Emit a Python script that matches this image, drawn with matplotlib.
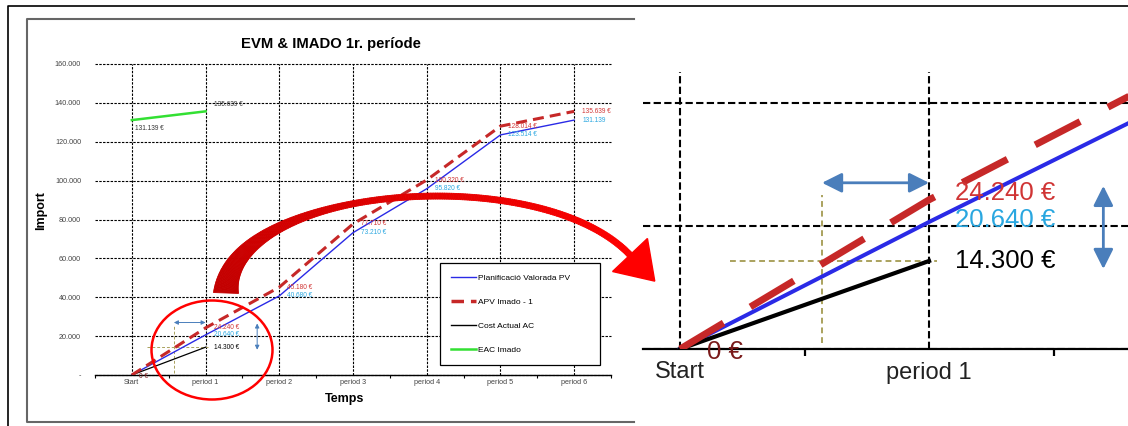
import numpy as np
import matplotlib
matplotlib.use('Agg')
import matplotlib.pyplot as plt
from matplotlib.patches import Ellipse, Polygon
from matplotlib.collections import PolyCollection
from matplotlib.lines import Line2D
from matplotlib.ticker import FuncFormatter, FixedLocator

plt.rcParams['font.family'] = ['Liberation Sans', 'DejaVu Sans']

W, H = 1128, 426

periods = ['Start', 'period 1', 'period 2', 'period 3', 'period 4', 'period 5', 'period 6']
pv = [0, 20640, 40680, 73210, 95820, 123514, 131139]
apv = [0, 24240, 45180, 77710, 100320, 128014, 135639]
ac = [0, 14300]
eac = [131139, 135639]
y_ticks = [0, 20000, 40000, 60000, 80000, 100000, 120000, 140000, 160000]
legend_labels = ['Planificació Valorada PV', 'APV Imado - 1', 'Cost Actual AC', 'EAC Imado']

# variance markers around period 1
es_x = 0.57                    # where the APV line reaches the actual cost
sv_arrow_y = 27000
cv_arrow_x = 1.7
cv_arrow_span = (26500, 13000)

BLUE = '#2a2ae6'
RED = '#c62828'
RED_TXT = '#d03535'
BLUE_TXT = '#2aa7e0'
GREEN = '#33e033'
OLIVE = '#aaa25e'
STEEL = '#4a7ebb'


def euro(v, unit=True):
    s = f'{v:,}'.replace(',', '.')
    return s + ' €' if unit else s


def box(x0, y0, x1, y1):
    return [x0 / W, 1 - y1 / H, (x1 - x0) / W, (y1 - y0) / H]


def draw_chart(ax, st):
    x = np.arange(len(periods))
    ax.plot(x, pv, color=BLUE, lw=st['lw_pv'], zorder=3)
    ax.plot(x, apv, color=RED, lw=st['lw_apv'], dashes=st['dash_apv'], zorder=4)
    ax.plot(x[:len(ac)], ac, color='black', lw=st['lw_ac'], zorder=3)
    ax.plot(x[:len(eac)], eac, color=GREEN, lw=st['lw_eac'], zorder=3)

    # helper lines for the schedule / cost variance
    ax.plot([0.2, 1.03], [ac[1], ac[1]], color=OLIVE, lw=st['lw_help'],
            dashes=st['dash_help'], zorder=2)
    ax.plot([es_x, es_x], [1000, 25000], color=OLIVE, lw=st['lw_help'],
            dashes=st['dash_help'], zorder=2)
    ax.annotate('', xy=(1.0, sv_arrow_y), xytext=(es_x, sv_arrow_y),
                arrowprops=dict(arrowstyle=st['arrow'], color=STEEL, lw=st['lw_arrow'],
                                mutation_scale=st['ms'], shrinkA=0, shrinkB=0), zorder=5)
    ax.annotate('', xy=(cv_arrow_x, cv_arrow_span[1]), xytext=(cv_arrow_x, cv_arrow_span[0]),
                arrowprops=dict(arrowstyle=st['arrow'], color=STEEL, lw=st['lw_arrow'],
                                mutation_scale=st['ms'], shrinkA=0, shrinkB=0), zorder=5)

    fs = st['fs']
    dx = st['dx']
    for i in range(1, len(periods)):
        ax.annotate(euro(apv[i]), xy=(i, apv[i]), xytext=(dx, st['dy_red']),
                    textcoords='offset pixels', color=RED_TXT, fontsize=fs,
                    va='center', ha='left', zorder=6)
        ax.annotate(euro(pv[i], i < len(periods) - 1), xy=(i, pv[i]),
                    xytext=(dx, st['dy_blue']), textcoords='offset pixels',
                    color=BLUE_TXT, fontsize=fs, va='center', ha='left', zorder=6)
    ax.annotate(euro(ac[1]), xy=(1, ac[1]), xytext=(dx, 0), textcoords='offset pixels',
                color='black', fontsize=fs, va='center', ha='left', zorder=6)
    ax.annotate(euro(0), xy=(0, 0), xytext=st['zero_off'], textcoords='offset pixels',
                color='#7a1a1a', fontsize=fs, va='center', ha='left', zorder=6,
                annotation_clip=False)
    ax.annotate(euro(eac[0]), xy=(0, eac[0]), xytext=(3, -8), textcoords='offset pixels',
                color='#333333', fontsize=fs, va='center', ha='left', zorder=6)
    ax.annotate(euro(eac[1]), xy=(1, eac[1]), xytext=(8, 7), textcoords='offset pixels',
                color='#333333', fontsize=fs, va='center', ha='left', zorder=6)

    ax.set_xticks(x)
    ax.set_xticklabels(periods)
    ax.xaxis.set_minor_locator(FixedLocator(np.arange(-0.5, len(periods), 1.0)))
    ax.set_yticks(y_ticks)
    ax.grid(True, color='black', lw=st['lw_grid'], dashes=st['dash_grid'])
    ax.set_axisbelow(True)
    for s in ['top', 'right', 'left']:
        ax.spines[s].set_visible(False)
    ax.spines['bottom'].set_linewidth(st['lw_axis'])
    ax.set_facecolor('none')


fig = plt.figure(figsize=(W / 100, H / 100), dpi=100)

# main chart
ax = fig.add_axes(box(95, 64, 611, 375))
draw_chart(ax, dict(lw_pv=1.0, lw_apv=2.2, dash_apv=(3.6, 2.0), lw_ac=0.9, lw_eac=1.8,
                    lw_help=0.7, dash_help=(3, 2),
                    arrow='<|-|>,head_length=0.5,head_width=0.25', lw_arrow=0.7, ms=5,
                    fs=4.7, dx=8, dy_red=0, dy_blue=0, zero_off=(7, -2),
                    lw_grid=0.8, dash_grid=(2.2, 1.2), lw_axis=1.0))
ax.set_xlim(-0.5, 6.5)
ax.set_ylim(0, 160000)
for gl in ax.get_ygridlines():
    gl.set_clip_on(False)
ax.yaxis.set_major_formatter(FuncFormatter(lambda v, _: '-' if v == 0 else euro(int(v), False)))
ax.tick_params(axis='both', which='major', length=0, labelsize=5.2, labelcolor='#444444')
ax.tick_params(axis='y', pad=10)
ax.tick_params(axis='x', pad=3)
ax.tick_params(axis='x', which='minor', length=2, width=0.8, direction='out')

handles = [Line2D([], [], color=BLUE, lw=1.0),
           Line2D([], [], color=RED, lw=2.5, dashes=(3.6, 2.0)),
           Line2D([], [], color='black', lw=1.0),
           Line2D([], [], color=GREEN, lw=1.8)]
leg = fig.legend(handles, legend_labels, loc='upper left',
                 bbox_to_anchor=(440 / W, 1 - 368 / H, 160 / W, 105 / H), mode='expand',
                 fontsize=6, labelspacing=1.93, borderpad=1.35, handlelength=3.0,
                 handletextpad=0.15, fancybox=False, framealpha=1, edgecolor='black',
                 borderaxespad=0)
leg.get_frame().set_linewidth(0.9)

fig.text(331 / W, 1 - 44 / H, 'EVM & IMADO 1r. període', ha='center', va='center',
         fontsize=10.7, fontweight='bold')
fig.text(345 / W, 1 - 399 / H, 'Temps', ha='center', va='center', fontsize=9,
         fontweight='bold')
fig.text(41 / W, 1 - 211 / H, 'Import', ha='center', va='center', fontsize=9,
         fontweight='bold', rotation=90)

# zoomed view of the first period
az = fig.add_axes(box(643, 72, 1128, 349))
draw_chart(az, dict(lw_pv=2.9, lw_apv=5.0, dash_apv=(7.3, 4.5), lw_ac=3.0, lw_eac=3,
                    lw_help=1.4, dash_help=(3, 2),
                    arrow='<|-|>,head_length=0.6,head_width=0.3',
                    lw_arrow=2.0, ms=20, fs=18.5, dx=26, dy_red=7, dy_blue=2,
                    zero_off=(27, -3), lw_grid=1.5, dash_grid=(3.5, 1.6), lw_axis=1.6))
az.set_xlim(-0.149, 1.799)
az.set_ylim(0, 45000)
az.set_yticklabels([])
az.tick_params(axis='y', length=0)
az.tick_params(axis='x', which='major', length=0, labelsize=17, labelcolor='#222222', pad=9)
az.tick_params(axis='x', which='minor', length=5, width=1.6, direction='out')

# overlay in pixel coordinates: frames, highlight ellipse and the curved arrow
ov = fig.add_axes([0, 0, 1, 1], zorder=10)
ov.set_xlim(0, W)
ov.set_ylim(H, 0)
ov.axis('off')
ov.set_facecolor('none')
ov.plot([8, 8, W], [H, 6, 6], color='black', lw=1.2)
ov.plot([634, 27, 27, 634], [19, 19, 422, 422], color='#666666', lw=1.5)
ov.add_patch(Ellipse((212, 350), 121, 99, fill=False, edgecolor='#ff0000', lw=1.8))

t = np.linspace(0, 1, 240)
P = np.array([[226, 293], [230, 185], [540, 160], [630, 255]], dtype=float)
c = np.array([(1 - t) ** 3, 3 * (1 - t) ** 2 * t, 3 * (1 - t) * t ** 2, t ** 3]).T
B = c @ P
dc = np.array([-3 * (1 - t) ** 2, 3 * (1 - t) ** 2 - 6 * (1 - t) * t,
               6 * (1 - t) * t - 3 * t ** 2, 3 * t ** 2]).T
D = dc @ P
D /= np.linalg.norm(D, axis=1)[:, None]
N = np.column_stack([-D[:, 1], D[:, 0]])
wd = 6 + 19 * np.clip(1 - t / 0.45, 0, 1) ** 2
Lp = B + N * wd[:, None] / 2
Rp = B - N * wd[:, None] / 2
polys = [[Lp[i], Lp[i + 1], Rp[i + 1], Rp[i]] for i in range(len(t) - 1)]
cols = [(0.76 + 0.24 * tt, 0, 0) for tt in t[:-1]]
ov.add_collection(PolyCollection(polys, facecolors=cols, edgecolors=cols, lw=0.6))
tip = B[-1] + D[-1] * 36
ov.add_patch(Polygon([B[-1] + N[-1] * 24, tip, B[-1] - N[-1] * 24], closed=True,
                     facecolor='#ff0000', edgecolor='#ff0000'))

fig.savefig('out.png', dpi=100)
